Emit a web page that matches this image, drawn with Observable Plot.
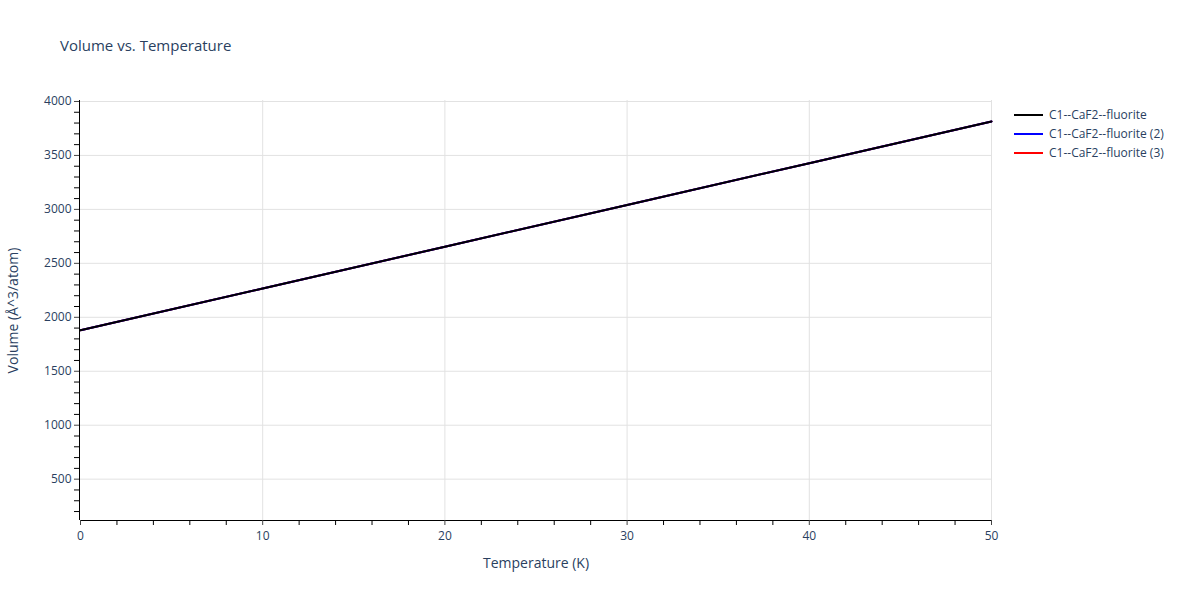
<!DOCTYPE html>
<html>
<head>
<meta charset="utf-8">
<script src="https://cdn.jsdelivr.net/npm/d3@7"></script>
<script src="https://cdn.jsdelivr.net/npm/@observablehq/plot@0.6"></script>
<style>
  body { margin: 0; background: #fff; font-family: "Open Sans", "DejaVu Sans", sans-serif; }
  #wrap { position: relative; width: 1200px; height: 600px; }
  #title { position: absolute; left: 60px; top: 35px; font-size: 15px; color: #2a3f5f; }
  #legend { position: absolute; left: 1014px; top: 105px; font-size: 12px; color: #2a3f5f; }
  .li { display: flex; align-items: center; height: 19px; }
  .sw { width: 29px; height: 2px; margin-right: 6px; }
  svg text { font-family: "Open Sans", "DejaVu Sans", sans-serif; }
</style>
</head>
<body>
<div id="wrap">
  <div id="chart"></div>
  <div id="title">Volume vs. Temperature</div>
  <div id="legend"></div>
</div>
<script>
const temperature = [0, 10, 20, 30, 40, 50];
const seriesNames = ["C1--CaF2--fluorite", "C1--CaF2--fluorite (2)", "C1--CaF2--fluorite (3)"];
const seriesColors = ["#000000", "#0000ff", "#ff0000"];
const volume1 = [1880, 2267, 2654, 3041, 3428, 3815];
const volume2 = [1880, 2267, 2654, 3041, 3428, 3815];
const volume3 = [1880, 2267, 2654, 3041, 3428, 3815];
const yTicks = [500, 1000, 1500, 2000, 2500, 3000, 3500, 4000];
const xTicks = [0, 10, 20, 30, 40, 50];

const allVolumes = [volume1, volume2, volume3];
const rows = [];
allVolumes.forEach((vals, i) => vals.forEach((v, j) => rows.push({series: seriesNames[i], T: temperature[j], V: v})));

const yMinor = d3.range(200, 4001, 100).filter(v => v % 500 !== 0);
const xMinor = d3.range(2, 50, 2).filter(v => v % 10 !== 0);
const yDomain = [117, 4009];

const drawOrder = [2, 1, 0];
const lineMarks = drawOrder.map(i => Plot.line(rows.filter(r => r.series === seriesNames[i]), {x: "T", y: "V", stroke: seriesColors[i], strokeWidth: 2}));

const chart = Plot.plot({
  width: 1200,
  height: 600,
  marginTop: 100,
  marginBottom: 80,
  marginLeft: 80,
  marginRight: 209,
  style: {fontSize: "12px", color: "#2a3f5f", background: "#fff"},
  x: {domain: [0, 50]},
  y: {domain: yDomain},
  marks: [
    Plot.gridY(yTicks, {stroke: "#e2e2e2", strokeOpacity: 1, strokeWidth: 1}),
    Plot.gridX([10, 20, 30, 40, 50], {stroke: "#e2e2e2", strokeOpacity: 1, strokeWidth: 1}),
    ...lineMarks,
    Plot.ruleX([0], {stroke: "#000", strokeWidth: 1, dx: -1}),
    Plot.ruleY([yDomain[0]], {stroke: "#000", strokeWidth: 1}),
    Plot.axisY(yTicks, {anchor: "left", tickSize: 5, tickPadding: 3, stroke: "#444", fill: "#2a3f5f", label: null, tickFormat: d => String(d), dx: -1}),
    Plot.axisY(yMinor, {anchor: "left", tickSize: 5, tickFormat: null, text: null, stroke: "#000", label: null, dx: -1}),
    Plot.axisX(xTicks, {anchor: "bottom", tickSize: 5, tickPadding: 6, stroke: "#444", fill: "#2a3f5f", label: null, tickFormat: d => String(d)}),
    Plot.axisX(xMinor, {anchor: "bottom", tickSize: 5, text: null, stroke: "#000", label: null}),
    Plot.text(["Temperature (K)"], {frameAnchor: "bottom", dy: 47, fontSize: 14, fill: "#2a3f5f"}),
    Plot.text(["Volume (Å^3/atom)"], {frameAnchor: "left", textAnchor: "middle", dx: -67, rotate: -90, fontSize: 14, fill: "#2a3f5f"})
  ]
});
document.getElementById("chart").appendChild(chart);

const legend = document.getElementById("legend");
seriesNames.forEach((n, i) => {
  const li = document.createElement("div");
  li.className = "li";
  li.innerHTML = `<div class="sw" style="background:${seriesColors[i]}"></div><span>${n}</span>`;
  legend.appendChild(li);
});
</script>
</body>
</html>
